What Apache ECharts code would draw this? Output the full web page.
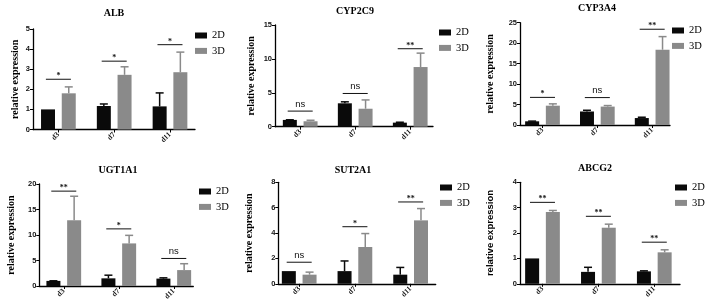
<!DOCTYPE html>
<html>
<head>
<meta charset="utf-8">
<script src="https://cdn.jsdelivr.net/npm/echarts@6/dist/echarts.min.js"></script>
<style>
  html, body { margin: 0; padding: 0; background: #fff; }
  #chart { width: 708px; height: 306px; }
</style>
</head>
<body>
<div id="chart"></div>
<script>
// 数据
const days = ['d3', 'd7', 'd11']
const genes = ['ALB', 'CYP2C9', 'CYP3A4', 'UGT1A1', 'SUT2A1', 'ABCG2']
const yMax = [5, 15, 25, 20, 8, 4]
const yStep = [1, 5, 5, 5, 2, 1]

const mean2D = [
  [1.0, 1.17, 1.15],
  [1.0, 3.45, 0.6],
  [0.9, 3.3, 1.7],
  [1.0, 1.5, 1.45],
  [1.0, 1.0, 0.72],
  [1.0, 0.47, 0.49]
]
const err2D = [
  [0.0, 0.1, 0.67],
  [0.02, 0.22, 0.06],
  [0.05, 0.3, 0.2],
  [0.02, 0.62, 0.15],
  [0.0, 0.8, 0.57],
  [0.0, 0.18, 0.02]
]
const mean3D = [
  [1.8, 2.72, 2.85],
  [0.8, 2.65, 8.8],
  [4.72, 4.5, 18.4],
  [12.9, 8.35, 3.12],
  [0.72, 2.9, 5.0],
  [2.83, 2.21, 1.24]
]
const err3D = [
  [0.32, 0.4, 1.0],
  [0.15, 1.3, 2.05],
  [0.45, 0.25, 3.2],
  [4.7, 1.58, 1.25],
  [0.2, 1.06, 0.93],
  [0.06, 0.14, 0.1]
]
// 显著性标记的高度和文字
const sigLevel = [
  [2.5, 3.4, 4.22],
  [2.3, 4.9, 11.5],
  [6.75, 6.7, 23.4],
  [18.6, 11.2, 5.4],
  [1.7, 4.5, 6.45],
  [3.21, 2.66, 1.64]
]
const sigText = [
  ['*', '*', '*'],
  ['ns', 'ns', '**'],
  ['*', 'ns', '**'],
  ['**', '*', 'ns'],
  ['ns', '*', '**'],
  ['**', '**', '**']
]

// 布局 (px)
const gridBox = [
  [33, 29, 162, 100.5],
  [275, 25, 158, 101.7],
  [520, 22.7, 150, 102.3],
  [39.3, 184, 154, 102],
  [278.3, 182.3, 157.4, 101.5],
  [520, 182.3, 160, 101.5]
]
const xRange = [
  [-0.455, 2.448],
  [-0.458, 2.414],
  [-0.41, 2.325],
  [-0.445, 2.355],
  [-0.375, 2.45],
  [-0.4025, 2.46]
]
const titlePos = [[114, 8], [355, 6], [597, 3], [118, 165], [353, 165], [595, 163]]
const legendPos = [[195, 30], [439, 27], [672, 25], [199, 186], [440, 182], [675, 182]]
const nameGaps = [13, 19, 25, 23, 23.5, 25]

const BAR_W = 14
const BAR_GAP = 0.48
const HALF = (BAR_W * (2 + BAR_GAP)) / 2 - BAR_W / 2
const COLOR_2D = '#0a0a0a'
const COLOR_3D = '#8a8a8a'
const SERIF = '"Liberation Serif", "Times New Roman", serif'
const SANS = '"Liberation Sans", Arial, sans-serif'

const errorItem = (offset) => (params, api) => {
  const x = api.value(0)
  const m = api.value(1)
  const e = api.value(2)
  if (!(e > 0.01)) return null
  const base = api.coord([x, m])
  const top = api.coord([x, m + e])
  const cx = base[0] + offset
  const color = api.visual('color')
  return {
    type: 'group',
    children: [
      { type: 'line', shape: { x1: cx, y1: base[1], x2: cx, y2: top[1] }, style: { stroke: color, lineWidth: 1.5 } },
      { type: 'line', shape: { x1: cx - 4, y1: top[1], x2: cx + 4, y2: top[1] }, style: { stroke: color, lineWidth: 1.5 } }
    ]
  }
}

const sigItem = (panel) => (params, api) => {
  const p = api.coord([api.value(0), api.value(1)])
  const txt = sigText[panel][params.dataIndex]
  const isNs = txt === 'ns'
  return {
    type: 'group',
    children: [
      { type: 'line', shape: { x1: p[0] - 12.5, y1: p[1], x2: p[0] + 12.5, y2: p[1] }, style: { stroke: '#111', lineWidth: 1 } },
      {
        type: 'text',
        x: p[0],
        y: isNs ? p[1] - 2 : p[1] + 1,
        style: {
          text: txt,
          align: 'center',
          verticalAlign: 'bottom',
          fontSize: isNs ? 9.5 : 8,
          fontWeight: isNs ? 'normal' : 'bold',
          fontFamily: isNs ? SANS : SERIF,
          fill: '#111'
        }
      }
    ]
  }
}

const grid = []
const xAxis = []
const yAxis = []
const title = []
const legend = []
const series = []

genes.forEach((gene, i) => {
  const g = gridBox[i]
  grid.push({ left: g[0], top: g[1], width: g[2], height: g[3] })
  title.push({
    text: gene,
    left: titlePos[i][0],
    top: titlePos[i][1],
    textAlign: 'center',
    padding: 0,
    textStyle: { fontSize: 10, fontWeight: 'bold', fontFamily: SERIF, color: '#000' }
  })
  legend.push({
    data: ['2D', '3D'],
    orient: 'vertical',
    left: legendPos[i][0],
    top: legendPos[i][1],
    padding: 0,
    itemWidth: 12,
    itemHeight: 6,
    itemGap: 4.4,
    icon: 'rect',
    selectedMode: false,
    textStyle: { fontSize: 10.5, lineHeight: 10, fontFamily: SERIF, color: '#000' }
  })
  xAxis.push({
    gridIndex: i,
    type: 'value',
    min: xRange[i][0],
    max: xRange[i][1],
    splitLine: { show: false },
    axisLine: { onZero: false, lineStyle: { color: '#000', width: 1.3 } },
    axisTick: { customValues: [0, 1, 2], length: 3, lineStyle: { color: '#000', width: 1 } },
    axisLabel: {
      customValues: [0, 1, 2],
      formatter: (v) => days[Math.round(v)],
      rotate: 45,
      margin: 4,
      fontSize: 7.5,
      fontWeight: 'bold',
      fontFamily: SERIF,
      color: '#111'
    }
  })
  yAxis.push({
    gridIndex: i,
    type: 'value',
    min: 0,
    max: yMax[i],
    interval: yStep[i],
    name: 'relative expression',
    nameLocation: 'middle',
    nameGap: nameGaps[i],
    nameTextStyle: {
      fontSize: i === 5 ? 9.5 : 10,
      fontWeight: 'bold',
      fontFamily: i === 5 ? SANS : SERIF,
      color: '#000'
    },
    splitLine: { show: false },
    axisLine: { show: true, onZero: false, lineStyle: { color: '#000', width: 1.3 } },
    axisTick: { show: true, length: 3, lineStyle: { color: '#000', width: 1 } },
    axisLabel: { fontSize: 7.5, fontWeight: 'bold', fontFamily: SANS, color: '#111', margin: 3 }
  })

  series.push({
    name: '2D',
    type: 'bar',
    xAxisIndex: i,
    yAxisIndex: i,
    barWidth: BAR_W,
    barGap: BAR_GAP * 100 + '%',
    itemStyle: { color: COLOR_2D },
    data: mean2D[i].map((v, j) => [j, v])
  })
  series.push({
    name: '3D',
    type: 'bar',
    xAxisIndex: i,
    yAxisIndex: i,
    barWidth: BAR_W,
    barGap: BAR_GAP * 100 + '%',
    itemStyle: { color: COLOR_3D },
    data: mean3D[i].map((v, j) => [j, v])
  })
  series.push({
    name: 'err2D',
    type: 'custom',
    xAxisIndex: i,
    yAxisIndex: i,
    itemStyle: { color: COLOR_2D },
    renderItem: errorItem(-HALF),
    encode: { x: 0, y: 1 },
    data: mean2D[i].map((v, j) => [j, v, err2D[i][j]]),
    z: 3
  })
  series.push({
    name: 'err3D',
    type: 'custom',
    xAxisIndex: i,
    yAxisIndex: i,
    itemStyle: { color: COLOR_3D },
    renderItem: errorItem(HALF),
    encode: { x: 0, y: 1 },
    data: mean3D[i].map((v, j) => [j, v, err3D[i][j]]),
    z: 3
  })
  series.push({
    name: 'sig',
    type: 'custom',
    xAxisIndex: i,
    yAxisIndex: i,
    renderItem: sigItem(i),
    encode: { x: 0, y: 1 },
    clip: false,
    data: sigLevel[i].map((v, j) => [j, v]),
    z: 4
  })
})

const chart = echarts.init(document.getElementById('chart'))
chart.setOption({
  animation: false,
  backgroundColor: '#fff',
  title,
  legend,
  grid,
  xAxis,
  yAxis,
  series
})
</script>
</body>
</html>
